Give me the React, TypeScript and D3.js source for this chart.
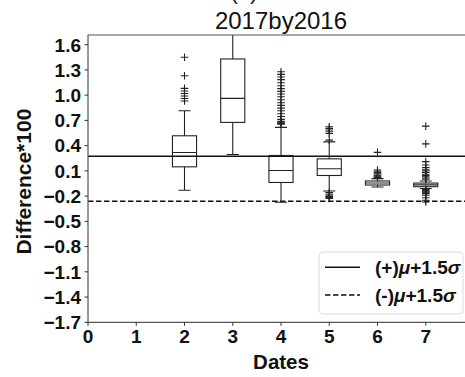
import React from "react";
import * as d3 from "d3";

// Box statistics per date (values are Difference*100)
const positions = [2, 3, 4, 5, 6, 7];
const q1 = [0.148, 0.676, -0.038, 0.045, -0.068, -0.088];
const medians = [0.319, 0.962, 0.105, 0.126, -0.045, -0.066];
const q3 = [0.517, 1.43, 0.283, 0.243, -0.02, -0.045];
const whiskerLow = [-0.13, 0.295, -0.273, -0.14, -0.092, -0.11];
const whiskerHigh = [0.814, 1.95, 0.617, 0.445, 0.008, -0.02];

// Outliers per date
const fliers2 = [1.45, 1.23, 1.08, 1.05, 1.02, 0.99, 0.96, 0.93];
const fliers3: number[] = [];
const fliers4 = [
  1.279, 1.247, 1.215, 1.184, 1.148, 1.112, 1.077, 1.045, 1.013, 0.981, 0.946,
  0.91, 0.878, 0.846, 0.815, 0.779, 0.747, 0.712, 0.69, 0.684, 0.672, 0.665, 0.656,
];
const fliers5 = [0.624, 0.605, 0.585, 0.565, 0.545, 0.465, -0.157, -0.175, -0.19, -0.205, -0.215, -0.229];
const fliers6 = [0.32, 0.11, 0.095, 0.08, 0.065, 0.05, 0.04, 0.03, 0.02];
const fliers7 = [
  0.632, 0.421, 0.21, 0.17, 0.14, 0.12, 0.1, 0.08, 0.06, 0.045, 0.03, 0.015, 0.0,
  -0.12, -0.13, -0.14, -0.15, -0.16, -0.17, -0.19, -0.22, -0.25, -0.27,
];
const fliers = [fliers2, fliers3, fliers4, fliers5, fliers6, fliers7];

// Threshold lines
const upperThreshold = 0.275;
const lowerThreshold = -0.261;

const xTicks = [0, 1, 2, 3, 4, 5, 6, 7];
const yTicks = [1.6, 1.3, 1.0, 0.7, 0.4, 0.1, -0.2, -0.5, -0.8, -1.1, -1.4, -1.7];

const title = "2017by2016";
const xLabel = "Dates";
const yLabel = "Difference*100";

const W = 465;
const H = 377;
const left = 88;
const right = 474;
const top = 35;
const bottom = 322.3;

const FONT = "'Liberation Sans', Arial, sans-serif";

export default function App() {
  const x = d3.scaleLinear().domain([0, 8]).range([left, right]);
  const y = d3.scaleLinear().domain([-1.7, 1.715]).range([bottom, top]);
  const boxW = x(0.5) - x(0);
  const capW = boxW / 2;
  const fmt = (v: number) => d3.format(".1f")(v).replace("-", "\u2212");
  const plus = 3.8;

  return (
    <svg
      width={W}
      height={H}
      style={{ position: "absolute", left: 0, top: 0, background: "#fff" }}
    >
      <defs>
        <clipPath id="plotArea">
          <rect x={left} y={top} width={right - left} height={bottom - top} />
        </clipPath>
      </defs>

      {/* panel tag, mostly above the frame */}
      <text x={244} y={-1} textAnchor="middle" fontFamily={FONT} fontSize={24} fill="#222">
        (c)
      </text>

      <text x={(left + right) / 2} y={29} textAnchor="middle" fontFamily={FONT} fontSize={24} fill="#111">
        {title}
      </text>

      <g clipPath="url(#plotArea)">
        {/* threshold lines */}
        <line x1={left} x2={right} y1={y(upperThreshold)} y2={y(upperThreshold)} stroke="#111" strokeWidth={1.5} />
        <line
          x1={left}
          x2={right}
          y1={y(lowerThreshold)}
          y2={y(lowerThreshold)}
          stroke="#111"
          strokeWidth={1.5}
          strokeDasharray="5.5,2.5"
        />

        {positions.map((p, i) => {
          const cx = x(p);
          return (
            <g key={p} stroke="#222" strokeWidth={1.1} fill="none">
              <line x1={cx} x2={cx} y1={y(q3[i])} y2={y(whiskerHigh[i])} />
              <line x1={cx} x2={cx} y1={y(q1[i])} y2={y(whiskerLow[i])} />
              <line x1={cx - capW / 2} x2={cx + capW / 2} y1={y(whiskerHigh[i])} y2={y(whiskerHigh[i])} />
              <line x1={cx - capW / 2} x2={cx + capW / 2} y1={y(whiskerLow[i])} y2={y(whiskerLow[i])} />
              <rect x={cx - boxW / 2} y={y(q3[i])} width={boxW} height={y(q1[i]) - y(q3[i])} />
              <line x1={cx - boxW / 2} x2={cx + boxW / 2} y1={y(medians[i])} y2={y(medians[i])} />
              {fliers[i].map((v, j) => (
                <path
                  key={j}
                  d={`M${cx - plus},${y(v)}H${cx + plus}M${cx},${y(v) - plus}V${y(v) + plus}`}
                  strokeWidth={1.1}
                />
              ))}
            </g>
          );
        })}
      </g>

      {/* frame */}
      <line x1={left} x2={right} y1={top} y2={top} stroke="#555" strokeWidth={1.2} />
      <line x1={left} x2={right} y1={bottom} y2={bottom} stroke="#555" strokeWidth={1.2} />
      <line x1={left} x2={left} y1={top} y2={bottom} stroke="#555" strokeWidth={1.2} />
      <line x1={right} x2={right} y1={top} y2={bottom} stroke="#555" strokeWidth={1.2} />

      {/* y axis */}
      {yTicks.map((t) => (
        <g key={t}>
          <line x1={left - 3.5} x2={left} y1={y(t)} y2={y(t)} stroke="#333" strokeWidth={1} />
          <text
            x={left - 7}
            y={y(t)}
            dy="0.36em"
            textAnchor="end"
            fontFamily={FONT}
            fontWeight="bold"
            fontSize={19}
            fill="#111"
          >
            {fmt(t)}
          </text>
        </g>
      ))}

      {/* x axis */}
      {xTicks.map((t) => (
        <g key={t}>
          <line x1={x(t)} x2={x(t)} y1={bottom} y2={bottom + 3.5} stroke="#333" strokeWidth={1} />
          <text
            x={x(t)}
            y={bottom + 21}
            textAnchor="middle"
            fontFamily={FONT}
            fontWeight="bold"
            fontSize={19}
            fill="#111"
          >
            {t}
          </text>
        </g>
      ))}

      <text
        x={(left + right) / 2}
        y={369}
        textAnchor="middle"
        fontFamily={FONT}
        fontWeight="bold"
        fontSize={20.5}
        fill="#111"
      >
        {xLabel}
      </text>
      <text
        transform={`translate(31,${(top + bottom) / 2 + 3}) rotate(-90)`}
        textAnchor="middle"
        fontFamily={FONT}
        fontWeight="bold"
        fontSize={21}
        fill="#111"
      >
        {yLabel}
      </text>

      {/* legend */}
      <g>
        <rect x={319} y={252} width={144} height={62} rx={4} fill="#fff" fillOpacity={0.85} stroke="#ddd" strokeWidth={1} />
        <line x1={325} x2={360} y1={267.3} y2={267.3} stroke="#111" strokeWidth={1.5} />
        <line x1={325} x2={360} y1={295} y2={295} stroke="#111" strokeWidth={1.5} strokeDasharray="5.5,2.5" />
        <text x={375} y={274} fontFamily={FONT} fontWeight="bold" fontSize={19} fill="#111">
          (+)<tspan fontStyle="italic">μ</tspan>+1.5<tspan fontStyle="italic">σ</tspan>
        </text>
        <text x={375} y={302} fontFamily={FONT} fontWeight="bold" fontSize={19} fill="#111">
          (-)<tspan fontStyle="italic">μ</tspan>+1.5<tspan fontStyle="italic">σ</tspan>
        </text>
      </g>
    </svg>
  );
}
